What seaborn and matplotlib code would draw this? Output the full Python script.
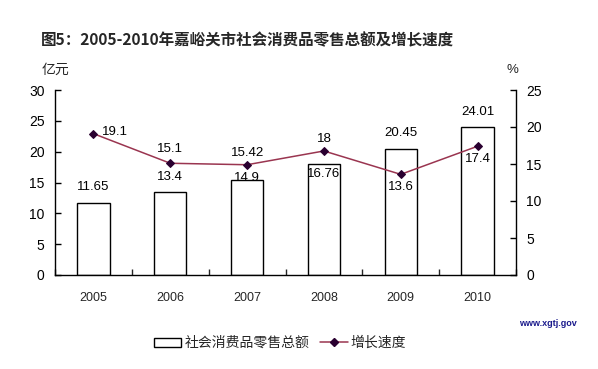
import matplotlib
matplotlib.use('Agg')
import matplotlib.pyplot as plt
import seaborn as sns
import numpy as np
import pandas as pd
from matplotlib.patches import Patch
from matplotlib.lines import Line2D

years = ['2005', '2006', '2007', '2008', '2009', '2010']
sales = [11.65, 13.4, 15.42, 18, 20.45, 24.01]
growth = [19.1, 15.1, 14.9, 16.76, 13.6, 17.4]
sales_labels = ['11.65', '13.4', '15.42', '18', '20.45', '24.01']
growth_labels = ['19.1', '15.1', '14.9', '16.76', '13.6', '17.4']
left_ticks = [0, 5, 10, 15, 20, 25, 30]
right_ticks = [0, 5, 10, 15, 20, 25]

sns.set_theme(style='white')
plt.rcParams['font.family'] = ['Liberation Sans', 'Noto Sans CJK SC', 'DejaVu Sans']
cjk = ['Noto Sans CJK SC', 'DejaVu Sans']

fig = plt.figure(figsize=(5.98, 3.69), dpi=100)
ax = fig.add_axes([55/598, 1-275/369, (516-55)/598, (275-90)/369])

df = pd.DataFrame({'year': years, 'sales': sales, 'growth': growth})
sns.barplot(data=df, x='year', y='sales', color='white', edgecolor='black',
            linewidth=1.0, width=0.42, ax=ax, saturation=1)
ax.set_xlim(-0.5, 5.5)
ax.set_ylim(0, 30)
ax.set_yticks(left_ticks)
ax.set_xlabel('')
ax.set_ylabel('')
for s in ['top', 'right']:
    ax.spines[s].set_visible(False)
for s in ['left', 'bottom']:
    ax.spines[s].set_color('black')
    ax.spines[s].set_linewidth(1.0)
ax.tick_params(axis='y', direction='in', length=4, width=1, colors='black', labelsize=10, pad=7.5, left=True)
ax.tick_params(axis='x', which='major', length=0, labelsize=9, pad=12)
ax.set_xticks(np.arange(-0.5, 6, 1), minor=True)
ax.tick_params(axis='x', which='minor', direction='in', length=4, width=1, bottom=True)

ax2 = ax.twinx()
sns.lineplot(x=np.arange(len(years)), y=growth, ax=ax2, color='#9a3550', linewidth=1.1,
             marker='D', markersize=4.5, markerfacecolor='#2a0030', markeredgecolor='#2a0030')
ax2.set_ylim(0, 25)
ax2.set_yticks(right_ticks)
ax2.set_xlim(-0.5, 5.5)
for s in ['top', 'left', 'bottom']:
    ax2.spines[s].set_visible(False)
ax2.spines['right'].set_color('black')
ax2.spines['right'].set_linewidth(1.0)
ax2.tick_params(axis='y', direction='in', length=4, width=1, colors='black', labelsize=10, pad=7.5, right=True)
ax2.grid(False)
ax.grid(False)

# bar labels (offsets in pixels above bar top)
sales_off = [16, 15, 27, 25, 16, 15]
for i, (v, t, o) in enumerate(zip(sales, sales_labels, sales_off)):
    ax.annotate(t, (i, v), xytext=(0, o), textcoords='offset pixels',
                ha='center', va='center', fontsize=9.5, color='black')
# growth labels
growth_off = [(22, 2), (0, 14), (0, -13), (0, -23), (0, -13), (0, -13)]
for i, (v, t, o) in enumerate(zip(growth, growth_labels, growth_off)):
    ax2.annotate(t, (i, v), xytext=o, textcoords='offset pixels',
                 ha='center', va='center', fontsize=9.5, color='black')

fig.text(42/598, 1-70/369, '亿元', family=cjk, fontsize=10, ha='left', va='center')
fig.text(512/598, 1-70/369, '%', fontsize=9.5, ha='center', va='center')
fig.text(247/598, 1-40/369, '图5：2005-2010年嘉峪关市社会消费品零售总额及增长速度',
         family=cjk, fontsize=11.2, fontweight='bold', ha='center', va='center')
fig.text(548/598, 1-323/369, 'www.xgtj.gov', fontsize=6.5, fontweight='bold',
         color='#1a1a8c', ha='center', va='center')

handles = [Patch(facecolor='white', edgecolor='black', linewidth=1.0),
           Line2D([0], [0], color='#9a3550', linewidth=1.1, marker='D', markersize=4,
                  markerfacecolor='#2a0030', markeredgecolor='#2a0030')]
fig.legend(handles, ['社会消费品零售总额', '增长速度'], loc='center',
           bbox_to_anchor=(280/598, 1-343/369), ncol=2, frameon=False,
           prop={'family': cjk, 'size': 10}, handlelength=2.0, handleheight=0.6,
           handletextpad=0.2, columnspacing=0.8)

fig.savefig('out.png', dpi=100)
